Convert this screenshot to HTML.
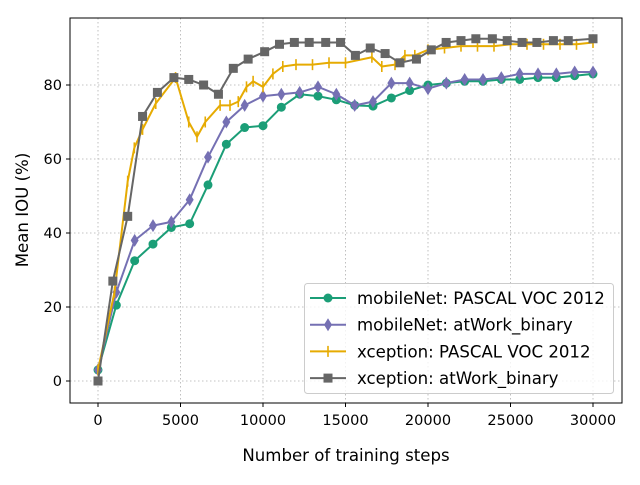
<!DOCTYPE html>
<html><head><meta charset="utf-8"><style>
body{margin:0;background:#fff}
svg text{font-family:"DejaVu Sans","Liberation Sans",sans-serif;fill:#000}
</style></head><body>
<svg id="c" width="640" height="480"></svg>
<script>
const xTicks=[0,5000,10000,15000,20000,25000,30000];
const yTicks=[0,20,40,60,80];
const greenX=[0,1111,2222,3333,4444,5556,6667,7778,8889,10000,11111,12222,13333,14444,15556,16667,17778,18889,20000,21111,22222,23333,24444,25556,26667,27778,28889,30000];
const greenY=[3,20.5,32.5,37,41.5,42.5,53,64,68.5,69,74,77.5,77,76,74.5,74.3,76.5,78.5,80,80.5,81,81,81.5,81.5,82,82,82.5,83];
const purpleX=greenX;
const purpleY=[3,24,38,42,43,49,60.5,70,74.5,77,77.5,78,79.5,77.5,74.5,75.5,80.5,80.5,79,80.5,81.5,81.5,82,83,83,83,83.5,83.5];
const yellowX=[0,1000,1800,2200,2700,3500,4700,5500,6000,6500,7400,8000,8500,9000,9400,10000,10600,11200,12000,13000,14000,15000,16600,17200,18000,18600,19200,20000,21000,22000,23000,24000,25000,26000,27000,28000,29000,30000];
const yellowY=[3,24,54,63,68,75,82,70,66,70,74.5,74.5,75.5,79.5,81,79.5,83,85,85.5,85.5,86,86,87.5,85,85.5,88,88,89.5,90,90.5,90.5,90.5,91,91,91,91,91,91.5];
const grayX=[0,900,1800,2700,3600,4600,5500,6400,7300,8200,9100,10100,11000,11900,12800,13800,14700,15600,16500,17400,18300,19300,20200,21100,22000,22900,23900,24800,25700,26600,27600,28500,30000];
const grayY=[0,27,44.5,71.5,78,82,81.5,80,77.5,84.5,87,89,91,91.5,91.5,91.5,91.5,88,90,88.5,86,87,89.5,91.5,92,92.5,92.5,92,91.5,91.5,92,92,92.5];
const labels=["mobileNet: PASCAL VOC 2012","mobileNet: atWork_binary","xception: PASCAL VOC 2012","xception: atWork_binary"];

const svg=document.getElementById('c');const NS='http://www.w3.org/2000/svg';
const L=70,R=622,T=18,B=403;
const sx=v=>98+v*(593-98)/30000;
const sy=v=>381-v*(381-85)/80;
function el(t,a,p){const e=document.createElementNS(NS,t);for(const k in a)e.setAttribute(k,a[k]);(p||svg).appendChild(e);return e;}
xTicks.forEach(v=>{const g=el('line',{x1:sx(v),x2:sx(v),y1:T,y2:B,stroke:'#b0b0b0','stroke-dasharray':'1.5,2.5','stroke-width':0.8});


el('line',{x1:sx(v),x2:sx(v),y1:B,y2:B+4,stroke:'#000'});
const t=el('text',{x:sx(v),y:B+22,'text-anchor':'middle','font-size':14.5});t.textContent=v;

});
yTicks.forEach(v=>{const g=el('line',{x1:L,x2:R,y1:sy(v),y2:sy(v),stroke:'#b0b0b0','stroke-dasharray':'1.5,2.5','stroke-width':0.8});


el('line',{x1:L-4,x2:L,y1:sy(v),y2:sy(v),stroke:'#000'});
const t=el('text',{x:L-8,y:sy(v)+5,'text-anchor':'end','font-size':14.5});t.textContent=v;

});
function marker(type,x,y,c,p){
 if(type==='o')return el('circle',{cx:x,cy:y,r:4.5,fill:c},p);
 if(type==='d')return el('polygon',{points:`${x},${y-6.5} ${x+4},${y} ${x},${y+6.5} ${x-4},${y}`,fill:c},p);
 if(type==='s')return el('rect',{x:x-4.5,y:y-4.5,width:9,height:9,fill:c},p);
 return el('line',{x1:x,x2:x,y1:y-5.5,y2:y+5.5,stroke:c,'stroke-width':1.6},p);
}
const series=[[greenX,greenY,'#1b9e77','o','series-mobilenet-voc'],[purpleX,purpleY,'#7570b3','d','series-mobilenet-atwork'],[yellowX,yellowY,'#e6ab02','|','series-xception-voc'],[grayX,grayY,'#666666','s','series-xception-atwork']];
series.forEach(([xs,ys,c,m,n])=>{
 const g=el('g',{});
 
 
 el('polyline',{points:xs.map((x,i)=>sx(x)+','+sy(ys[i])).join(' '),fill:'none',stroke:c,'stroke-width':2,'stroke-linejoin':'round'},g);
 xs.forEach((x,i)=>{const mk=marker(m,sx(x),sy(ys[i]),c,g);
 
 });
});
el('rect',{x:L,y:T,width:R-L,height:B-T,fill:'none',stroke:'#000','stroke-width':1});
const xl=el('text',{x:346,y:461,'text-anchor':'middle','font-size':16.6});xl.textContent='Number of training steps';


const yl=el('text',{x:0,y:0,'text-anchor':'middle','font-size':16.6,transform:'translate(28,210) rotate(-90)'});yl.textContent='Mean IOU (%)';


const lg=el('g',{});


el('rect',{x:304.5,y:283.5,width:309,height:110,rx:3,fill:'#fff','fill-opacity':0.8,stroke:'#ccc'},lg);
series.forEach(([xs,ys,c,m],i)=>{
 const y=298+i*26.7;
 const e=el('g',{},lg);
 
 
 el('line',{x1:310,x2:346,y1:y,y2:y,stroke:c,'stroke-width':2},e);
 marker(m,328,y,c,e);
 const t=el('text',{x:357,y:y+6,'font-size':16.6},e);t.textContent=labels[i];
});
</script>
</body></html>
